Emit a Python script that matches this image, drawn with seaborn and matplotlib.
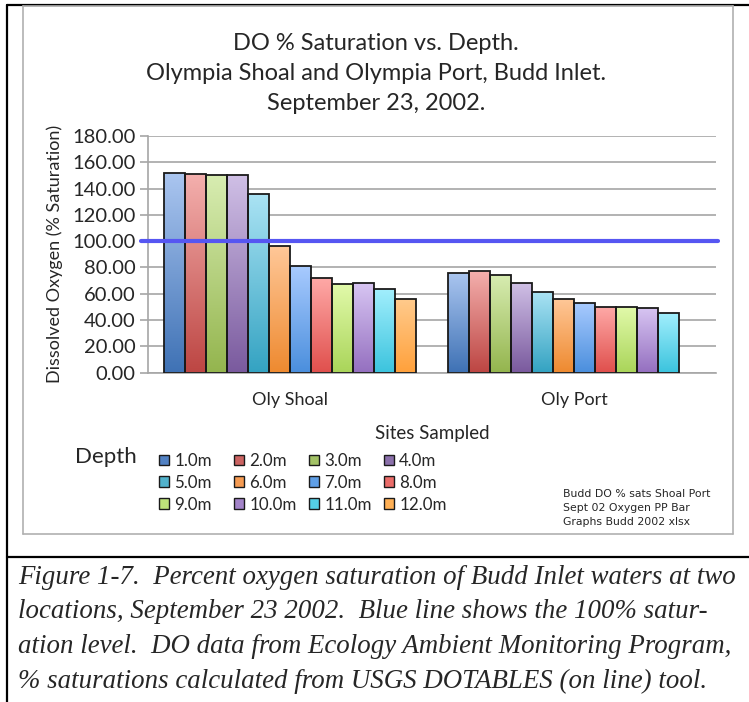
import numpy as np
import pandas as pd
import matplotlib
matplotlib.use("Agg")
import matplotlib.pyplot as plt
from matplotlib.colors import LinearSegmentedColormap
from matplotlib.lines import Line2D
from matplotlib.patches import Patch
import seaborn as sns

# data
sites = ["Oly Shoal", "Oly Port"]
depths = ["1.0m", "2.0m", "3.0m", "4.0m", "5.0m", "6.0m",
          "7.0m", "8.0m", "9.0m", "10.0m", "11.0m", "12.0m"]
shoal_sat = [151.9, 150.9, 150.2, 150.2, 135.7, 96.4, 81.2, 72.1, 67.3, 68.3, 63.5, 55.7]
port_sat = [75.4, 77.2, 74.4, 68.1, 61.0, 56.1, 52.9, 50.0, 50.0, 49.0, 45.5, np.nan]
yticks = [0, 20, 40, 60, 80, 100, 120, 140, 160, 180]
saturation_level = 100

# bar colours: bottom (dark) and top (light) of each gradient
base_colors = ["#3f72b5", "#bd4643", "#94b54e", "#7a5a9e", "#34a3c2", "#ee8a30",
               "#4b8fdd", "#e0504d", "#aad55a", "#9570c0", "#3cc4de", "#ffa13c"]
top_colors = ["#abc6f0", "#f4b0ae", "#d8edb2", "#d0c0e6", "#abe3f4", "#ffc899",
              "#a9cbff", "#ffaaa8", "#e2faab", "#d8c6f3", "#a3effd", "#ffcb8d"]
legend_colors = ["#5282c4", "#cc6462", "#a3c266", "#8b70ab", "#52b3cd", "#f59b52",
                 "#5f9fe6", "#ea6c69", "#bde27a", "#a384c9", "#55d0e6", "#ffb055"]

df = pd.DataFrame({
    "Site": np.repeat(sites, len(depths)),
    "Depth": depths * len(sites),
    "DO": shoal_sat + port_sat,
})

sns.set_style("white")
plt.rcParams["font.family"] = ["Lato", "DejaVu Sans"]

fig = plt.figure(figsize=(7.49, 7.02), dpi=100)
ax = fig.add_axes([148 / 749, 1 - 372.5 / 702, 568 / 749, 236.5 / 702])

sns.barplot(data=df, x="Site", y="DO", hue="Depth", order=sites, hue_order=depths,
            palette=base_colors, width=0.887, errorbar=None, legend=False,
            edgecolor="#1a1a1a", linewidth=1.3, ax=ax, zorder=3)

# vertical gradient fill for each bar
grad = np.linspace(0, 1, 256).reshape(-1, 1)
for i, cont in enumerate(ax.containers):
    cmap = LinearSegmentedColormap.from_list("g%d" % i, [base_colors[i], top_colors[i]])
    for bar in cont:
        h = bar.get_height()
        if not np.isfinite(h) or h == 0:
            continue
        x0 = bar.get_x()
        w = bar.get_width()
        im = ax.imshow(grad, cmap=cmap, origin="lower", aspect="auto",
                       extent=[x0, x0 + w, 0, h], zorder=2.9)
        im.set_clip_path(bar)
        bar.set_facecolor("none")

ax.set_xlim(-0.5, 1.5)
ax.set_ylim(0, 180)
ax.set_yticks(yticks)
ax.set_yticklabels(["%.2f" % v for v in yticks])
ax.yaxis.grid(True, color="#a6a6a6", linewidth=1.2, zorder=0)
ax.set_axisbelow(True)

ax.set_xticks([0, 1])
ax.set_xticklabels(sites)
ax.set_xticks([-0.5, 0.5, 1.5], minor=True)
ax.tick_params(axis="x", which="major", length=0, pad=14, labelsize=13)
ax.tick_params(axis="x", which="minor", length=6, width=1.2, color="#a6a6a6", direction="out")
ax.tick_params(axis="y", length=6, width=1.2, color="#a6a6a6", direction="out",
               pad=3, labelsize=14.5, left=True)

for s in ["top", "right"]:
    ax.spines[s].set_visible(False)
for s in ["left", "bottom"]:
    ax.spines[s].set_color("#a6a6a6")
    ax.spines[s].set_linewidth(1.2)

ax.axhline(saturation_level, xmin=-0.013, xmax=1.004, color="#5656f2",
           linewidth=3, clip_on=False, zorder=4)

ax.set_xlabel("Sites Sampled", fontsize=13.5, labelpad=12)
ax.set_ylabel("Dissolved Oxygen (% Saturation)", fontsize=13)
ax.yaxis.set_label_coords((63 - 148) / 568, 0.5)

# title
fig.text(376 / 749, 1 - 73.5 / 702,
         "DO % Saturation vs. Depth.\nOlympia Shoal and Olympia Port, Budd Inlet.\nSeptember 23, 2002.",
         ha="center", va="center", fontsize=17, linespacing=1.55)

# legend: 4 evenly spaced columns, entries run across rows
handles = [Patch(facecolor=c, edgecolor="#1a1a1a", linewidth=1) for c in legend_colors]
col_x = [159, 234, 309, 384]
for c, x in enumerate(col_x):
    idx = [c, c + 4, c + 8]
    fig.legend([handles[k] for k in idx], [depths[k] for k in idx], ncol=1,
               loc="upper left", bbox_to_anchor=(x / 749, 1 - 453 / 702),
               frameon=False, prop={"family": "Lato", "size": 12.2},
               handlelength=0.6, handleheight=0.6, handletextpad=0.3,
               labelspacing=0.34, borderaxespad=0, borderpad=0)
fig.text(75 / 749, 1 - 457 / 702, "Depth", fontsize=16, va="center", ha="left")

fig.text(563 / 749, 1 - 508 / 702,
         "Budd DO % sats Shoal Port\nSept 02 Oxygen PP Bar\nGraphs Budd 2002 xlsx",
         family="DejaVu Sans", fontsize=7.8, va="center", ha="left", linespacing=1.45)

# frames
def fline(x0, y0, x1, y1, color, lw):
    fig.add_artist(Line2D([x0 / 749, x1 / 749], [1 - y0 / 702, 1 - y1 / 702],
                          color=color, linewidth=lw, transform=fig.transFigure))

fline(7, 5, 749, 5, "black", 1.6)
fline(7, 5, 7, 702, "black", 1.6)
fline(7, 557, 749, 557, "black", 1.6)
fline(23, 6, 23, 534, "#b0b0b0", 1.2)
fline(23, 6, 733, 6, "#b0b0b0", 1.2)
fline(733, 6, 733, 534, "#b0b0b0", 1.2)
fline(23, 534, 733, 534, "#b0b0b0", 1.2)

# caption
caption = ("Figure 1-7.  Percent oxygen saturation of Budd Inlet waters at two\n"
           "locations, September 23 2002.  Blue line shows the 100% satur-\n"
           "ation level.  DO data from Ecology Ambient Monitoring Program,\n"
           "% saturations calculated from USGS DOTABLES (on line) tool.")
fig.text(18 / 749, 1 - 565 / 702, caption, family="Liberation Serif", style="italic",
         fontsize=19.4, va="top", ha="left", linespacing=1.5)

fig.savefig("out.png", dpi=100)
